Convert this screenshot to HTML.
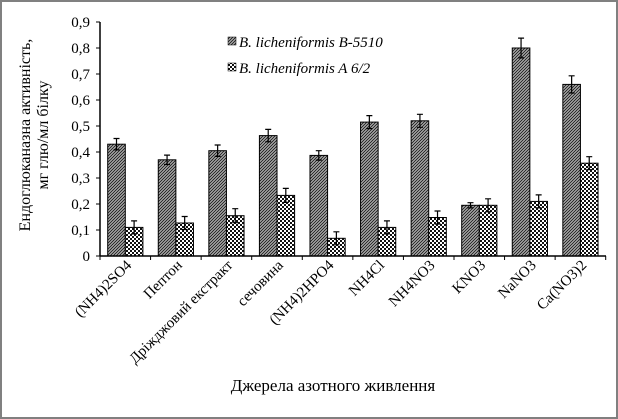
<!DOCTYPE html>
<html><head><meta charset="utf-8"><style>
html,body{margin:0;padding:0;background:#fff}
svg{display:block}
text{font-family:"Liberation Serif",serif;fill:#000}
</style></head><body>
<svg width="618" height="419" viewBox="0 0 618 419" xmlns="http://www.w3.org/2000/svg">
<defs>
<pattern id="hat" width="3" height="3" patternUnits="userSpaceOnUse">
<rect width="3" height="3" fill="#bdbdbd"/>
<path d="M-1,1 L1,-1 M0,3 L3,0 M2,4 L4,2" stroke="#222" stroke-width="1"/>
</pattern>
<pattern id="chk" width="4" height="4" patternUnits="userSpaceOnUse">
<rect width="4" height="4" fill="#fff"/>
<rect x="0" y="0" width="2" height="2" fill="#111"/>
<rect x="2" y="2" width="2" height="2" fill="#111"/>
</pattern>
</defs>
<rect x="1" y="1" width="616" height="417" fill="#fff" stroke="#808080" stroke-width="2"/>
<g stroke="#000" stroke-width="1">
<rect x="107.7" y="144.2" width="17.6" height="111.8" fill="url(#hat)"/>
<rect x="125.3" y="227.4" width="17.6" height="28.6" fill="url(#chk)"/>
<rect x="158.27" y="159.8" width="17.6" height="96.2" fill="url(#hat)"/>
<rect x="175.87" y="223" width="17.6" height="33" fill="url(#chk)"/>
<rect x="208.84" y="150.7" width="17.6" height="105.3" fill="url(#hat)"/>
<rect x="226.44" y="215.7" width="17.6" height="40.3" fill="url(#chk)"/>
<rect x="259.41" y="135.6" width="17.6" height="120.4" fill="url(#hat)"/>
<rect x="277.01" y="195.4" width="17.6" height="60.6" fill="url(#chk)"/>
<rect x="309.98" y="155.4" width="17.6" height="100.6" fill="url(#hat)"/>
<rect x="327.58" y="238.3" width="17.6" height="17.7" fill="url(#chk)"/>
<rect x="360.55" y="122.1" width="17.6" height="133.9" fill="url(#hat)"/>
<rect x="378.15" y="227.4" width="17.6" height="28.6" fill="url(#chk)"/>
<rect x="411.12" y="120.8" width="17.6" height="135.2" fill="url(#hat)"/>
<rect x="428.72" y="217.5" width="17.6" height="38.5" fill="url(#chk)"/>
<rect x="461.69" y="205.3" width="17.6" height="50.7" fill="url(#hat)"/>
<rect x="479.29" y="205.3" width="17.6" height="50.7" fill="url(#chk)"/>
<rect x="512.26" y="48" width="17.6" height="208" fill="url(#hat)"/>
<rect x="529.86" y="201.4" width="17.6" height="54.6" fill="url(#chk)"/>
<rect x="562.83" y="84.4" width="17.6" height="171.6" fill="url(#hat)"/>
<rect x="580.43" y="163.2" width="17.6" height="92.8" fill="url(#chk)"/>
</g>
<g stroke="#000" stroke-width="1.2" fill="none">
<path d="M116.5,138.5V149.9M113.5,138.5H119.5M113.5,149.9H119.5"/>
<path d="M134.1,220.9V233.9M131.1,220.9H137.1M131.1,233.9H137.1"/>
<path d="M167.07,155.1V164.5M164.07,155.1H170.07M164.07,164.5H170.07"/>
<path d="M184.67,216.5V229.5M181.67,216.5H187.67M181.67,229.5H187.67"/>
<path d="M217.64,145V156.4M214.64,145H220.64M214.64,156.4H220.64"/>
<path d="M235.24,208.7V222.7M232.24,208.7H238.24M232.24,222.7H238.24"/>
<path d="M268.21,129.4V141.8M265.21,129.4H271.21M265.21,141.8H271.21"/>
<path d="M285.81,188.4V202.4M282.81,188.4H288.81M282.81,202.4H288.81"/>
<path d="M318.78,150.7V160.1M315.78,150.7H321.78M315.78,160.1H321.78"/>
<path d="M336.38,231.8V244.8M333.38,231.8H339.38M333.38,244.8H339.38"/>
<path d="M369.35,115.6V128.6M366.35,115.6H372.35M366.35,128.6H372.35"/>
<path d="M386.95,220.9V233.9M383.95,220.9H389.95M383.95,233.9H389.95"/>
<path d="M419.92,114.3V127.3M416.92,114.3H422.92M416.92,127.3H422.92"/>
<path d="M437.52,211V224M434.52,211H440.52M434.52,224H440.52"/>
<path d="M470.49,202.7V207.9M467.49,202.7H473.49M467.49,207.9H473.49"/>
<path d="M488.09,198.8V211.8M485.09,198.8H491.09M485.09,211.8H491.09"/>
<path d="M521.06,38.1V57.9M518.06,38.1H524.06M518.06,57.9H524.06"/>
<path d="M538.66,194.9V207.9M535.66,194.9H541.66M535.66,207.9H541.66"/>
<path d="M571.63,75.8V93M568.63,75.8H574.63M568.63,93H574.63"/>
<path d="M589.23,156.7V169.7M586.23,156.7H592.23M586.23,169.7H592.23"/>
</g>
<line x1="100" y1="22" x2="100" y2="256" stroke="#000" stroke-width="1.5"/>
<line x1="100" y1="256" x2="606" y2="256" stroke="#000" stroke-width="1.5"/>
<g stroke="#000" stroke-width="1">
<line x1="96" y1="256" x2="100" y2="256"/><line x1="96" y1="230" x2="100" y2="230"/>
<line x1="96" y1="204" x2="100" y2="204"/><line x1="96" y1="178" x2="100" y2="178"/>
<line x1="96" y1="152" x2="100" y2="152"/><line x1="96" y1="126" x2="100" y2="126"/>
<line x1="96" y1="100" x2="100" y2="100"/><line x1="96" y1="74" x2="100" y2="74"/>
<line x1="96" y1="48" x2="100" y2="48"/><line x1="96" y1="22" x2="100" y2="22"/>
<line x1="100" y1="256" x2="100" y2="260"/><line x1="150.57" y1="256" x2="150.57" y2="260"/>
<line x1="201.14" y1="256" x2="201.14" y2="260"/><line x1="251.71" y1="256" x2="251.71" y2="260"/>
<line x1="302.28" y1="256" x2="302.28" y2="260"/><line x1="352.85" y1="256" x2="352.85" y2="260"/>
<line x1="403.42" y1="256" x2="403.42" y2="260"/><line x1="453.99" y1="256" x2="453.99" y2="260"/>
<line x1="504.56" y1="256" x2="504.56" y2="260"/><line x1="555.13" y1="256" x2="555.13" y2="260"/>
<line x1="605.7" y1="256" x2="605.7" y2="260"/>
</g>
<g font-size="15" text-anchor="end">
<text x="90" y="261">0</text><text x="90" y="235">0,1</text><text x="90" y="209">0,2</text>
<text x="90" y="183">0,3</text><text x="90" y="157">0,4</text><text x="90" y="131">0,5</text>
<text x="90" y="105">0,6</text><text x="90" y="79">0,7</text><text x="90" y="53">0,8</text>
<text x="90" y="27">0,9</text>
</g>
<g font-size="16" text-anchor="middle">
<text transform="translate(30,135) rotate(-90)">Ендоглюканазна активність,</text>
<text transform="translate(48,135) rotate(-90)">мг глю/мл білку</text>
<text x="333" y="391" font-size="17">Джерела азотного живлення</text>
</g>
<rect x="228" y="37" width="8" height="8" fill="url(#hat)" stroke="#000" stroke-width="0.5"/>
<rect x="228" y="63" width="8" height="8" fill="url(#chk)" stroke="#000" stroke-width="0.5"/>
<g font-size="15" font-style="italic">
<text x="239" y="47">B. licheniformis B-5510</text>
<text x="239" y="73">B. licheniformis A 6/2</text>
</g>
<g font-size="15" text-anchor="end">
<text transform="translate(132.3,266) rotate(-45)">(NH4)2SO4</text>
<text transform="translate(182.9,266) rotate(-45)">Пептон</text>
<text transform="translate(233.4,266) rotate(-45)">Дріжджовий екстракт</text>
<text transform="translate(284,266) rotate(-45)">сечовина</text>
<text transform="translate(334.6,266) rotate(-45)">(NH4)2HPO4</text>
<text transform="translate(385.2,266) rotate(-45)">NH4Cl</text>
<text transform="translate(435.7,266) rotate(-45)">NH4NO3</text>
<text transform="translate(486.3,266) rotate(-45)">KNO3</text>
<text transform="translate(536.9,266) rotate(-45)">NaNO3</text>
<text transform="translate(587.4,266) rotate(-45)">Ca(NO3)2</text>
</g>
</svg>
</body></html>
